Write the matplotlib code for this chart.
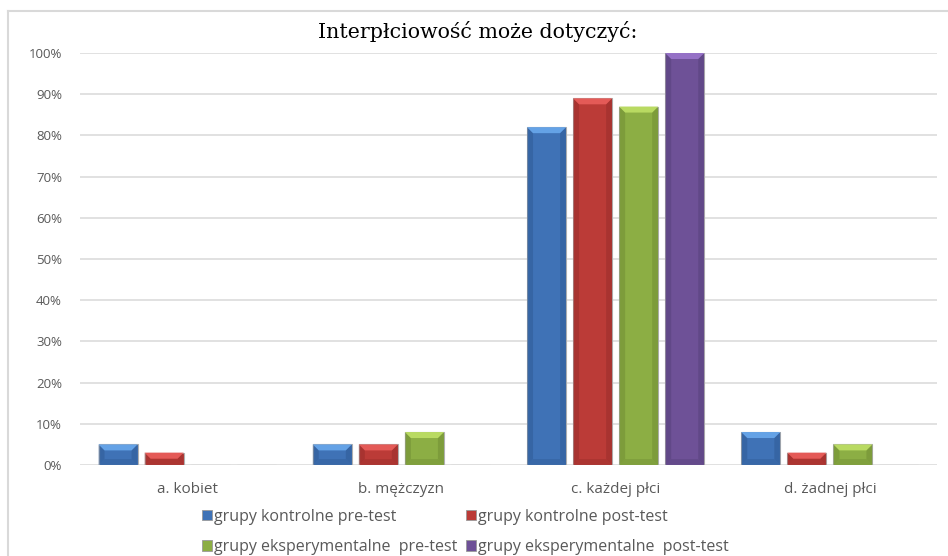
import numpy as np
import matplotlib.pyplot as plt
from matplotlib.patches import Polygon, Rectangle
from matplotlib.lines import Line2D

categories = ['a. kobiet', 'b. mężczyzn', 'c. każdej płci', 'd. żadnej płci']
series_names = ['grupy kontrolne pre-test', 'grupy kontrolne post-test',
                'grupy eksperymentalne  pre-test', 'grupy eksperymentalne  post-test']
kontrolne_pre = [5, 5, 82, 8]
kontrolne_post = [3, 5, 89, 3]
eksp_pre = [0, 8, 87, 5]
eksp_post = [0, 0, 100, 0]
yticks = [0, 10, 20, 30, 40, 50, 60, 70, 80, 90, 100]

series = [kontrolne_pre, kontrolne_post, eksp_pre, eksp_post]
# face, lighter bevel top, darker sides
palette = [
    ('#3f72b6', '#64a2e6', '#2f5a94'),
    ('#bb3b37', '#e45a57', '#962c2a'),
    ('#8cae44', '#b9da62', '#6f8c33'),
    ('#6e5197', '#9571c6', '#56407a'),
]

W, H, DPI = 948, 556, 100
plt.rcParams['font.family'] = ['Open Sans', 'DejaVu Sans']

fig = plt.figure(figsize=(W / DPI, H / DPI), dpi=DPI)
ax_l, ax_r, ax_b, ax_t = 80, 937, 465, 53
ax = fig.add_axes([ax_l / W, 1 - ax_b / H, (ax_r - ax_l) / W, (ax_b - ax_t) / H])

n = len(categories)
ax.set_xlim(-0.5, n - 0.5)
ax.set_ylim(0, 100)

# data units per pixel, used for the bevel edges
ux = n / (ax_r - ax_l)
uy = 100 / (ax_b - ax_t)

bar_w = 0.182
step = 0.215
x = np.arange(n)
handles = []
for i, (vals, (face, light, dark)) in enumerate(zip(series, palette)):
    xs = x + (i - 1.5) * step
    bars = ax.bar(xs, vals, width=bar_w, color=face, edgecolor='#b0b0b0',
                  linewidth=0.8, zorder=3)
    handles.append(Rectangle((0, 0), 1, 1, facecolor=face, edgecolor='#9a9a9a', linewidth=0.6))
    for b in bars:
        h = b.get_height()
        if h <= 0:
            continue
        x0 = b.get_x()
        x1 = x0 + b.get_width()
        bev = min(6, h / uy / 2)
        dx, dy = bev * ux, bev * uy
        ax.add_patch(Polygon([(x0, 0), (x0 + dx, dy), (x0 + dx, h - dy), (x0, h)],
                             closed=True, facecolor=dark, edgecolor='none', alpha=0.5, zorder=4))
        ax.add_patch(Polygon([(x1, 0), (x1 - dx, dy), (x1 - dx, h - dy), (x1, h)],
                             closed=True, facecolor=dark, edgecolor='none', alpha=0.5, zorder=4))
        ax.add_patch(Polygon([(x0, h), (x0 + dx, h - dy), (x1 - dx, h - dy), (x1, h)],
                             closed=True, facecolor=light, edgecolor='none', zorder=4))
        ax.add_patch(Polygon([(x0, 0), (x0 + dx, dy), (x1 - dx, dy), (x1, 0)],
                             closed=True, facecolor=dark, edgecolor='none', alpha=0.4, zorder=4))

ax.set_yticks(yticks)
ax.set_yticklabels([f'{t}%' for t in yticks])
ax.set_xticks(x)
ax.set_xticklabels(categories)
ax.tick_params(axis='both', length=0, colors='#595959')
ax.tick_params(axis='y', pad=13, labelsize=9.5)
ax.tick_params(axis='x', pad=12, labelsize=11)
ax.grid(axis='y', color='#d9d9d9', linewidth=1.1, zorder=0)
ax.set_axisbelow(True)
for s in ax.spines.values():
    s.set_visible(False)

fig.text(478 / W, 1 - 32 / H, 'Interpłciowość może dotyczyć:', ha='center', va='center',
         fontsize=14.8, family=['DejaVu Serif'], color='black')

leg = fig.legend([handles[0], handles[2], handles[1], handles[3]],
                 [series_names[0], series_names[2], series_names[1], series_names[3]],
                 ncol=2, loc='center left', bbox_to_anchor=(202 / W, 1 - 532 / H),
                 frameon=False, fontsize=11.5, handlelength=0.6, handleheight=0.6,
                 handletextpad=0.15, columnspacing=0.55, labelspacing=0.9,
                 borderpad=0, borderaxespad=0)
for t in leg.get_texts():
    t.set_color('#595959')

# outer chart frame (left and top edges)
fig.add_artist(Line2D([7.5 / W, 7.5 / W], [0, 1 - 11 / H], transform=fig.transFigure,
                      color='#d9d9d9', linewidth=1.5))
fig.add_artist(Line2D([7.5 / W, 1], [1 - 11 / H, 1 - 11 / H], transform=fig.transFigure,
                      color='#d9d9d9', linewidth=1.5))

fig.savefig('out.png', dpi=DPI)
